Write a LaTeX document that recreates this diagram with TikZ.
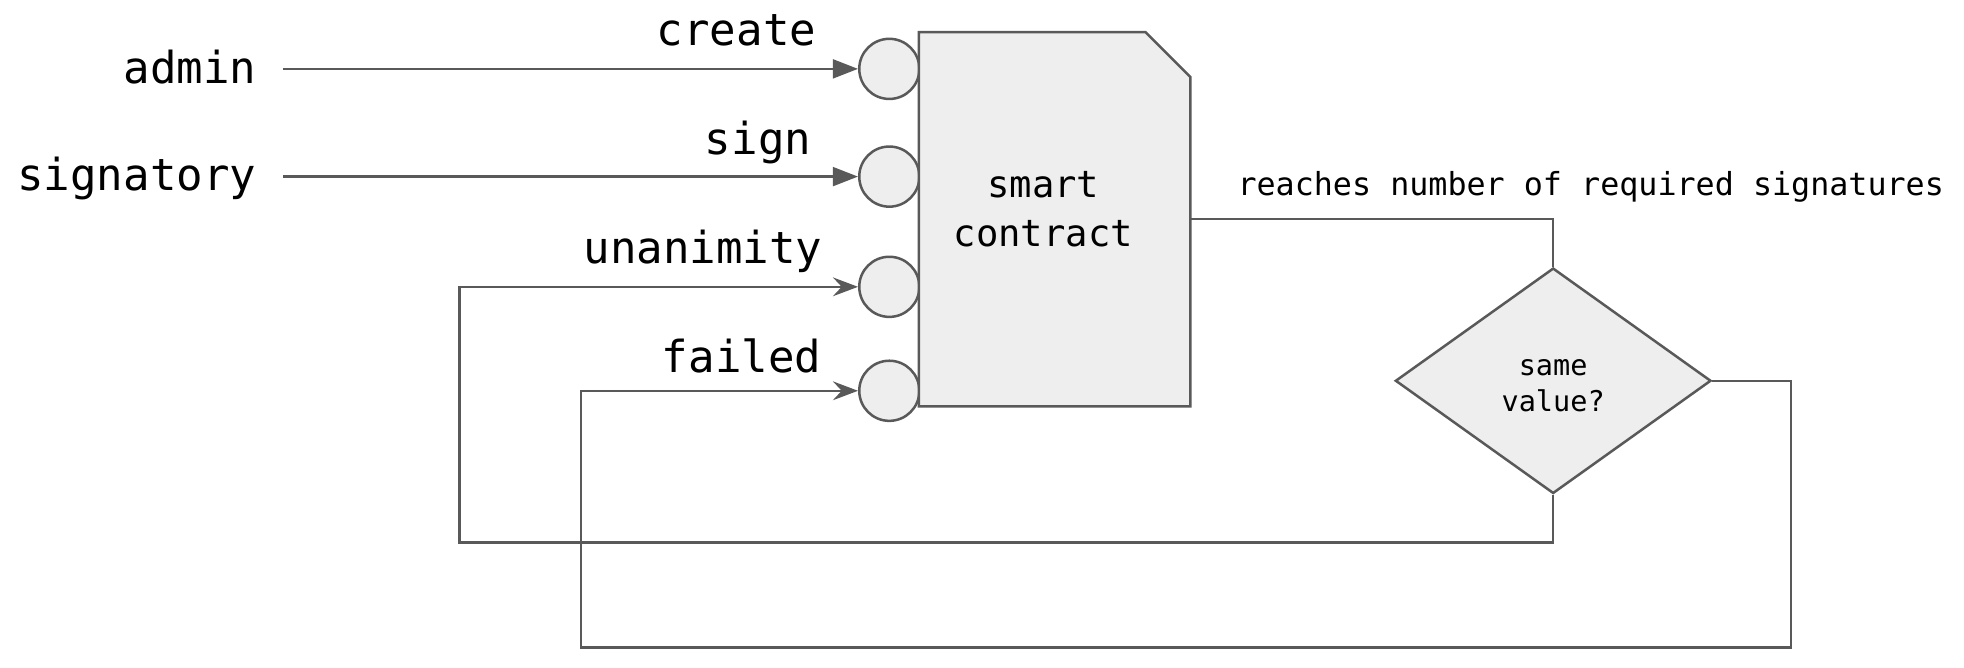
\documentclass[tikz,border=0pt]{standalone}
\usepackage{fontspec}
\setmonofont{DejaVu Sans Mono}
\usetikzlibrary{arrows.meta,shapes.geometric}
\definecolor{lc}{HTML}{595959}
\definecolor{fc}{HTML}{EEEEEE}
\begin{document}
\begin{tikzpicture}[x=0.5pt,y=-0.5pt,
  ln/.style={draw=lc, line width=1pt},
  port/.style={circle, draw=lc, fill=fc, line width=1pt, minimum size=24pt, inner sep=0pt},
  lbl/.style={font=\ttfamily\fontsize{17.6}{20}\selectfont, inner sep=0pt, anchor=base east},
  fillarrow/.style={-{Triangle[length=10pt,width=7.5pt]}},
  barbarrow/.style={-{Stealth[length=10pt,width=7.5pt,inset=3.5pt]}},
]
\useasboundingbox (0,0) rectangle (1568,533);

% labels
\node[lbl] (admin) at (205,67) {admin};
\node[lbl] (signatory) at (205,152) {signatory};
\node[lbl] (create) at (652,36) {create};
\node[lbl] (sign) at (648,123) {sign};
\node[lbl] (unan) at (657,210) {unanimity};
\node[lbl] (failed) at (656,297) {failed};

% ports
\node[port] (c1) at (710,55) {};
\node[port] (c2) at (710,141) {};
\node[port] (c3) at (710,229) {};
\node[port] (c4) at (710,312) {};

% smart contract box
\node[minimum width=108pt, minimum height=149pt, inner sep=0pt] (sc) at (842,175) {};
\filldraw[ln, fill=fc] (sc.south west) -- (sc.north west) -- ([xshift=-18pt]sc.north east)
  -- ([yshift=-18pt]sc.north east) -- (sc.south east) -- cycle;
\node[font=\ttfamily\fontsize{14.85}{19.5}\selectfont, align=center, inner sep=0pt] (sclabel) at (833,167) {smart\\contract};

% decision
\node[diamond, draw=lc, fill=fc, line width=1pt, minimum width=126pt, minimum height=90pt, inner sep=0pt] (d) at (1240,304) {};
\node[font=\ttfamily\fontsize{11.4}{14.5}\selectfont, align=center, inner sep=0pt] (dtext) at (1240,308) {same\\value?};

\node[font=\ttfamily\fontsize{12.66}{15}\selectfont, inner sep=0pt, anchor=base] (reach) at (1270,156) {reaches number of required signatures};

% connectors
\coordinate (a0) at (226,55);
\coordinate (s0) at (226,141);
\coordinate (l1) at (367,433);
\coordinate (r1) at (1430,517);
\coordinate (r2) at (464,517);

\draw[ln, fillarrow] (a0) -- (c1.west);
\draw[ln, fillarrow] (s0) -- (c2.west);
\draw[ln] (sc.east) -| (d.north);
\draw[ln, barbarrow] (d.south) |- (l1) |- (c3.west);
\draw[ln, barbarrow] (d.east) -| (r1) -- (r2) |- (c4.west);
\end{tikzpicture}
\end{document}
